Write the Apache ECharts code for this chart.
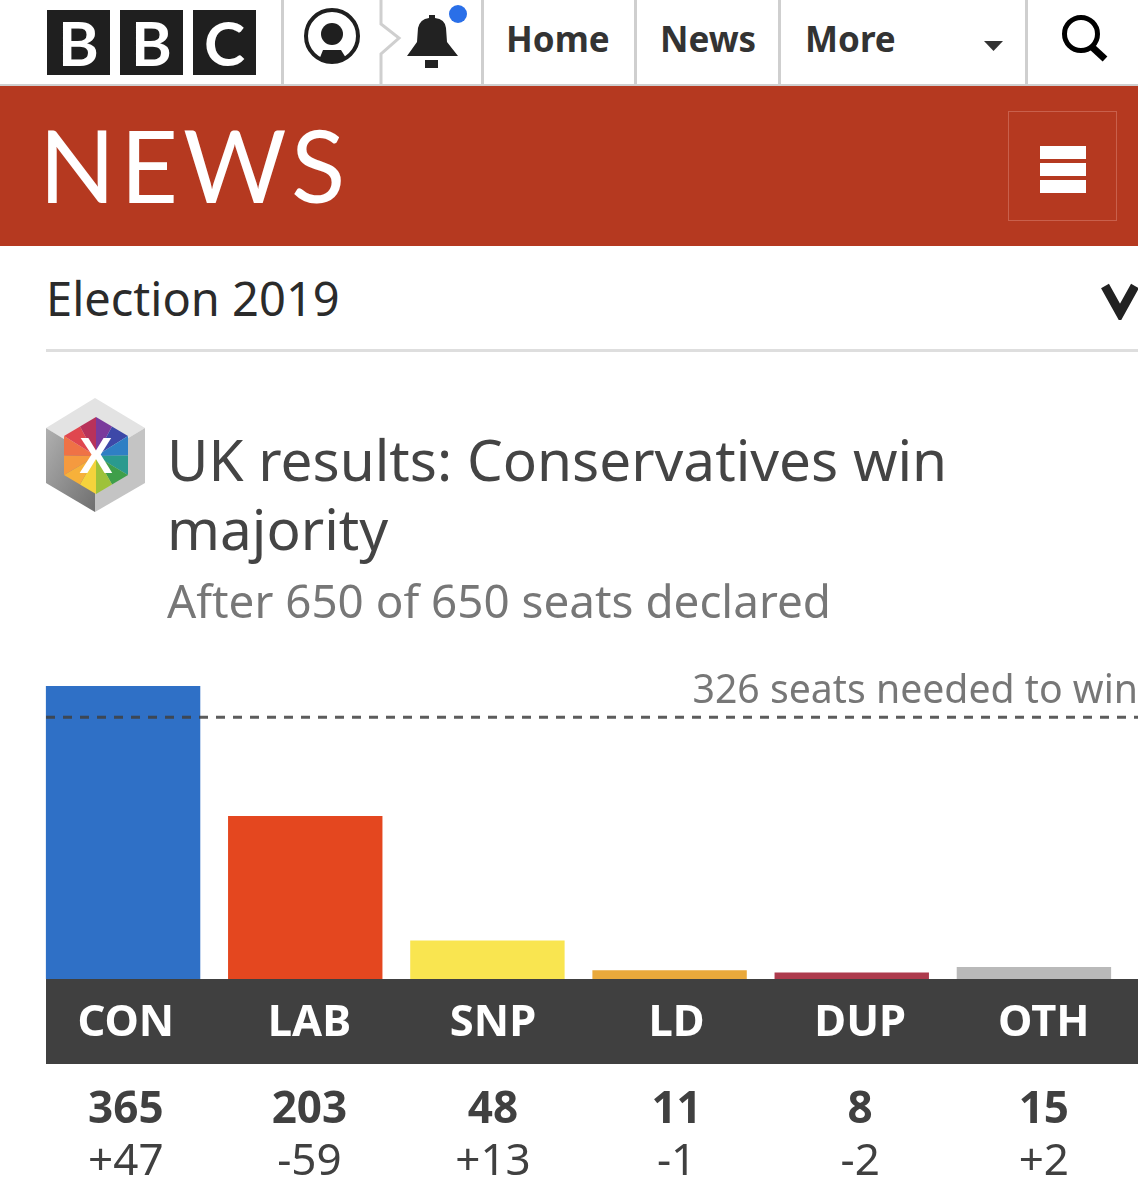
<!DOCTYPE html>
<html>
<head>
<meta charset="utf-8">
<title>Election 2019</title>
<script src="https://cdn.jsdelivr.net/npm/echarts@6/dist/echarts.min.js"></script>
<style>
  html, body { margin: 0; padding: 0; background: #fff; }
  #page { position: relative; width: 1138px; height: 1200px; overflow: hidden; font-family: "Noto Sans", sans-serif; }
  #chart { position: absolute; left: 0; top: 0; width: 1138px; height: 1200px; }
  .abs { position: absolute; }
  .box { background: #1f1f1f; color: #fff; width: 63px; height: 65px; top: 10px; font: 700 62px/65px Lato, sans-serif; text-align: center; }
  .sep { width: 3px; top: 0; height: 84px; background: #cfcfcf; }
  .nav { top: 16px; font-weight: 700; font-size: 35px; line-height: 46px; color: #333; }
  #newsbar { left: 0; top: 86px; width: 1138px; height: 160px; background: #b53920; }
  #newsword { left: 39px; top: 104px; font: 400 100px/120px Lato, sans-serif; letter-spacing: 5px; color: #fff; }
  #menubox { left: 1008px; top: 111px; width: 107px; height: 108px; border: 1px solid #c9604c; }
  .bar3 { left: 1040px; width: 46px; height: 13px; background: #fff; }
  #section { left: 46px; top: 268px; font-size: 47px; line-height: 60px; color: #2b2b2b; }
  #rule { left: 46px; top: 349px; width: 1092px; height: 3px; background: #dedede; }
</style>
</head>
<body>
<div id="page">
  <div class="abs box" style="left:47px">B</div>
  <div class="abs box" style="left:120px">B</div>
  <div class="abs box" style="left:193px">C</div>
  <div class="abs" style="left:0;top:84px;width:1138px;height:2px;background:#cfcfcf"></div>
  <div class="abs sep" style="left:281px"></div>
  <div class="abs sep" style="left:481px"></div>
  <div class="abs sep" style="left:634px"></div>
  <div class="abs sep" style="left:778px"></div>
  <div class="abs sep" style="left:1025px"></div>
  <svg class="abs" style="left:0;top:0" width="1138" height="86">
    <circle cx="332" cy="36" r="26" fill="none" stroke="#1f1f1f" stroke-width="4"/>
    <circle cx="332" cy="34" r="11" fill="#1f1f1f"/>
    <path d="M319 60 L323 50 L341 50 L346 58 Q332 66 319 60Z" fill="#1f1f1f"/>
    <path d="M381 0 V24 L399 38 L381 54 V84" fill="none" stroke="#cfcfcf" stroke-width="3"/>
    <path d="M407 56 L417 42 L418 28 Q420 19 429 18 V15 H435 V18 Q445 19 446 28 L447 42 L458 56Z" fill="#222"/>
    <rect x="425" y="60" width="13" height="8" fill="#222"/>
    <circle cx="458" cy="14" r="9" fill="#2a6fe8"/>
    <path d="M984 41 H1003 L993.5 51Z" fill="#333"/>
    <circle cx="1081" cy="34" r="16.5" fill="none" stroke="#000" stroke-width="5"/>
    <path d="M1092 47 L1105 59" stroke="#000" stroke-width="7"/>
  </svg>
  <div class="abs nav" style="left:506px">Home</div>
  <div class="abs nav" style="left:660px">News</div>
  <div class="abs nav" style="left:805px">More</div>

  <div class="abs" id="newsbar"></div>
  <div class="abs" id="newsword">NEWS</div>
  <div class="abs" id="menubox"></div>
  <div class="abs bar3" style="top:146px"></div>
  <div class="abs bar3" style="top:163px"></div>
  <div class="abs bar3" style="top:180px"></div>

  <div class="abs" id="section">Election 2019</div>
  <svg class="abs" style="left:1095px;top:280px" width="43" height="40">
    <path d="M10 6 L25 33 L40 6" fill="none" stroke="#222" stroke-width="9"/>
  </svg>
  <div class="abs" id="rule"></div>

  <svg class="abs" style="left:40px;top:392px" width="110" height="126">
    <defs>
      <linearGradient id="sideL" x1="0" y1="0" x2="1" y2="1">
        <stop offset="0" stop-color="#b0b0b0"/>
        <stop offset="1" stop-color="#6f6f6f"/>
      </linearGradient>
    </defs>
    <polygon points="55,6 105,36 55,66 6,36" fill="#e3e3e3"/>
    <polygon points="6,36 55,66 55,120 6,91" fill="url(#sideL)"/>
    <polygon points="105,36 105,91 55,120 55,66" fill="#c4c4c4"/>
    <polygon points="56,64 56,25 72,34.5" fill="#7a3a9c"/>
    <polygon points="56,64 72,34.5 88,44" fill="#3d48a8"/>
    <polygon points="56,64 88,44 88,63.5" fill="#2f7fc4"/>
    <polygon points="56,64 88,63.5 88,83" fill="#2a9a8e"/>
    <polygon points="56,64 88,83 72,92.5" fill="#3f9f4a"/>
    <polygon points="56,64 72,92.5 56,102" fill="#9ec23a"/>
    <polygon points="56,64 56,102 40,92.5" fill="#f5d33c"/>
    <polygon points="56,64 40,92.5 24,83" fill="#f7b13a"/>
    <polygon points="56,64 24,83 24,63.5" fill="#f59a3f"/>
    <polygon points="56,64 24,63.5 24,44" fill="#ef7246"/>
    <polygon points="56,64 24,44 40,34.5" fill="#e0474f"/>
    <polygon points="56,64 40,34.5 56,25" fill="#b8325a"/>
    <text x="56" y="81" text-anchor="middle" font-family="Liberation Sans" font-weight="700" font-size="50" fill="#fff">X</text>
  </svg>

  <div id="chart"></div>
</div>

<script>
// Seats per party, 2019 general election
const categories = ['CON', 'LAB', 'SNP', 'LD', 'DUP', 'OTH'];
const seats = [365, 203, 48, 11, 8, 15];
const changes = ['+47', '-59', '+13', '-1', '-2', '+2'];
const partyColors = ['#2f70c6', '#e4471f', '#f9e550', '#eaa93b', '#ad3b4d', '#b9b9b9'];
const majoritySeats = 326;
const majorityLabel = '326 seats needed to win';
const titleText = 'UK results: Conservatives win\nmajority';
const subText = 'After 650 of 650 seats declared';

const fontFamily = '"Noto Sans", sans-serif';
const chart = echarts.init(document.getElementById('chart'));

const option = {
  animation: false,
  title: {
    text: titleText,
    subtext: subText,
    left: 162,
    top: 425,
    itemGap: 9,
    textStyle: { fontFamily, fontWeight: 400, fontSize: 56.7, lineHeight: 69, color: '#444' },
    subtextStyle: { fontFamily, fontSize: 45.8, lineHeight: 56, color: '#777' }
  },
  graphic: [
    // dark strip behind the party names
    { type: 'rect', z: -1, shape: { x: 46, y: 979, width: 1092, height: 85 }, style: { fill: '#404040' } }
  ],
  grid: [
    { left: 32, top: 686, width: 1093, height: 293 },  // bars
    { left: 34, top: 979, width: 1101.6, height: 85 }, // table under the bars
    { left: 46, top: 686, width: 1092, height: 293 }   // majority line
  ],
  xAxis: [
    { gridIndex: 0, type: 'category', data: categories, axisLine: { show: false }, axisTick: { show: false }, axisLabel: { show: false } },
    {
      gridIndex: 1, type: 'category', position: 'top', data: categories,
      axisLine: { show: false }, axisTick: { show: false },
      axisLabel: { inside: true, margin: 23, fontFamily, fontWeight: 700, fontSize: 43.5, color: '#fff', interval: 0 }
    },
    {
      gridIndex: 1, type: 'category', position: 'bottom',
      data: categories.map((c, i) => `{seat|${seats[i]}}\n{change|${changes[i]}}`),
      axisLine: { show: false }, axisTick: { show: false },
      axisLabel: {
        margin: 20, interval: 0,
        rich: {
          seat: { fontFamily, fontWeight: 700, fontSize: 44, lineHeight: 52, color: '#404040', align: 'center' },
          change: { fontFamily, fontSize: 44, lineHeight: 52, color: '#404040', align: 'center' }
        }
      }
    },
    { gridIndex: 2, type: 'value', min: 0, max: 1, show: false }
  ],
  yAxis: [
    { gridIndex: 0, type: 'value', min: 0, max: 365, show: false },
    { gridIndex: 1, type: 'value', show: false },
    { gridIndex: 2, type: 'value', min: 0, max: 365, show: false }
  ],
  series: [
    {
      type: 'bar',
      xAxisIndex: 0,
      yAxisIndex: 0,
      barWidth: 154.4,
      data: seats.map((v, i) => ({ value: v, itemStyle: { color: partyColors[i] } }))
    },
    {
      type: 'line',
      xAxisIndex: 3,
      yAxisIndex: 2,
      z: 5,
      symbol: 'circle',
      symbolSize: 0,
      lineStyle: { color: 'rgba(64,64,64,0.85)', width: 3, type: [9, 8] },
      data: [
        [0, majoritySeats],
        {
          value: [1, majoritySeats],
          label: {
            show: true, position: 'top', align: 'right', distance: 6,
            formatter: majorityLabel, fontFamily, fontSize: 39.2, color: '#777'
          }
        }
      ]
    }
  ]
};

chart.setOption(option);
</script>
</body>
</html>
